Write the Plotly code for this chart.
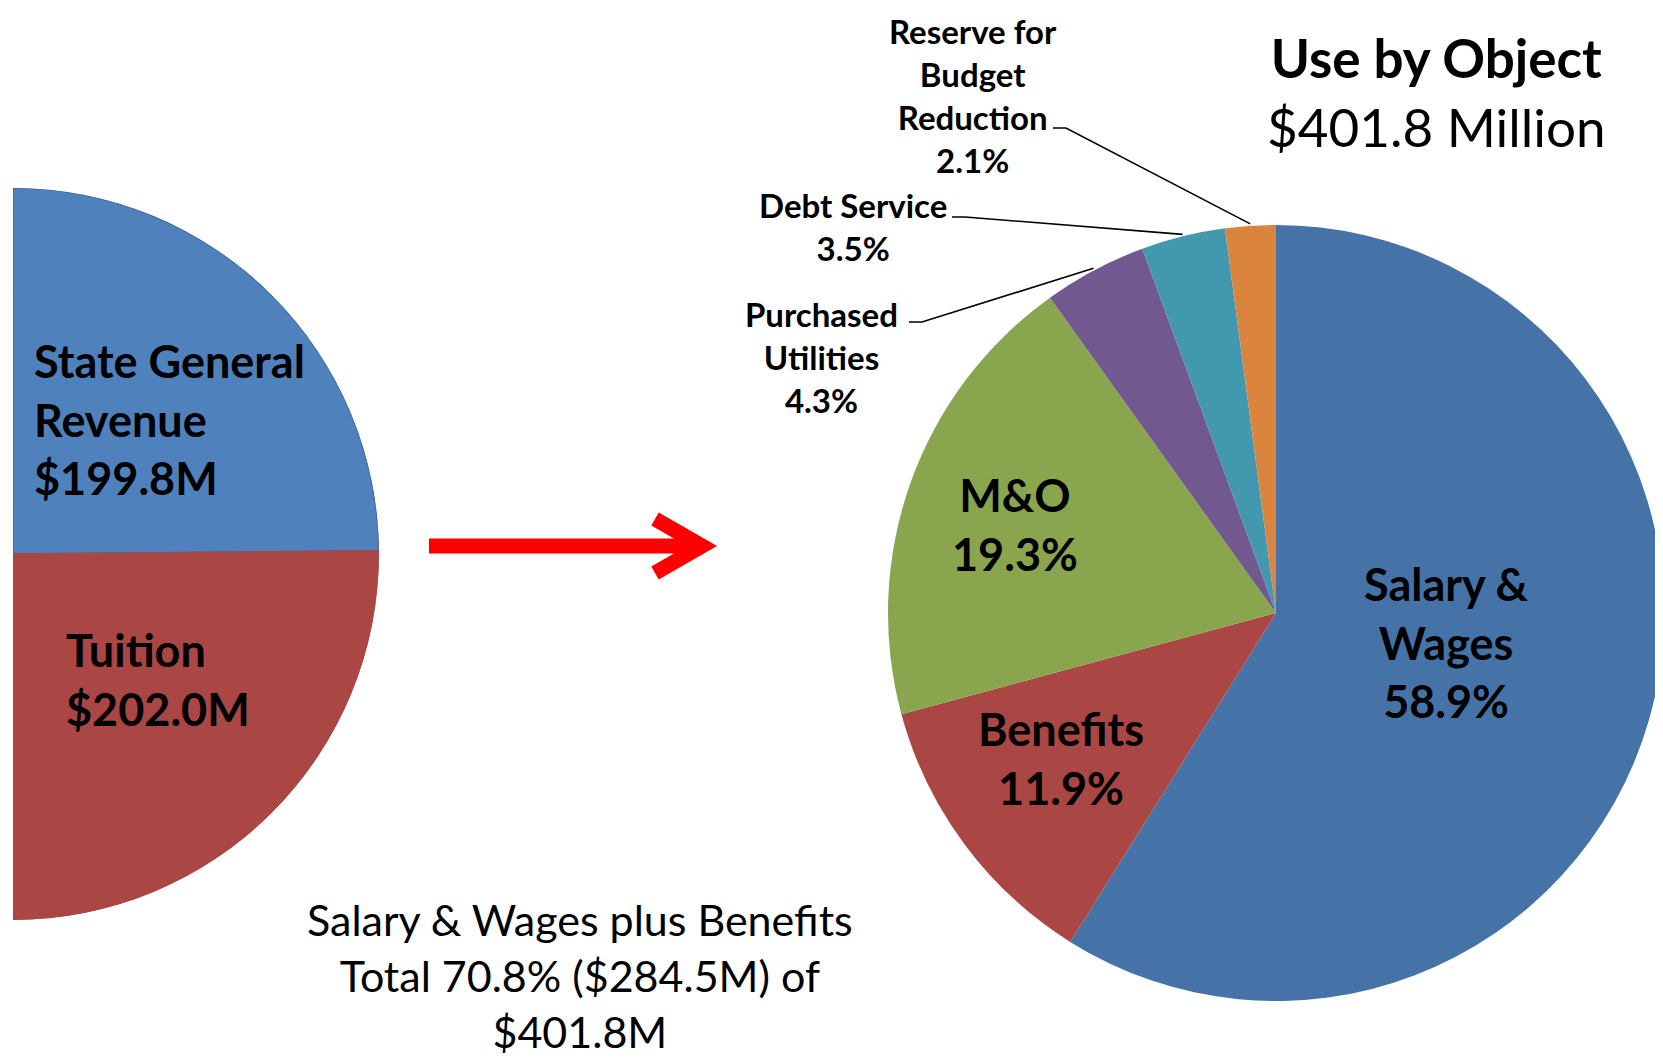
import math
import plotly.graph_objects as go

W, H = 1663, 1058
OFF = 8  # page body margin offset

# ---- data ----
rev_labels = ["State General Revenue", "Tuition"]
rev_values = [199.8, 202.0]
rev_text = ["State General<br>Revenue<br>$199.8M", "Tuition<br>$202.0M"]

use_labels = ["Salary & Wages", "Benefits", "M&O", "Purchased Utilities",
              "Debt Service", "Reserve for Budget Reduction"]
use_values = [58.9, 11.9, 19.3, 4.3, 3.5, 2.1]
use_text = ["Salary &<br>Wages<br>58.9%", "Benefits<br>11.9%", "M&O<br>19.3%",
            "Purchased<br>Utilities<br>4.3%", "Debt Service<br>3.5%",
            "Reserve for<br>Budget<br>Reduction<br>2.1%"]

title_lines = ["<b>Use by Object</b>", "$401.8 Million"]
note_text = "Salary & Wages plus Benefits<br>Total 70.8% ($284.5M) of<br>$401.8M"

# ---- styles ----
rev_colors = ["#4F81BD", "#AA4644"]
rev_line = ["#3A6494", "#AA4644"]
use_colors = ["#4572A7", "#AA4643", "#89A54E", "#71588F", "#4198AF", "#DB843D"]
FONT = "Lato, 'Open Sans', sans-serif"


def X(px):
    return (px - OFF) / W


def Y(py):
    return 1 - (py - OFF) / H


fig = go.Figure()

# ---- left half pie (polar sector) ----
tot = sum(rev_values)
widths = [180.0 * v / tot for v in rev_values]
centers = []
acc = 0.0
for w in widths:
    centers.append(acc + w / 2)
    acc += w
fig.add_trace(go.Barpolar(
    r=[1] * len(rev_values), theta=centers, width=widths,
    marker=dict(color=rev_colors, line=dict(color=rev_line, width=1.5)),
    hoverinfo="skip", showlegend=False))

lcx, lcy, lR = 13, 554, 366
fig.update_layout(polar=dict(
    domain=dict(x=[X(lcx), X(lcx + lR)], y=[Y(lcy + lR), Y(lcy - lR)]),
    sector=[-90, 90], bgcolor="rgba(0,0,0,0)", bargap=0, hole=0,
    radialaxis=dict(visible=False, range=[0, 1]),
    angularaxis=dict(visible=False, rotation=90, direction="clockwise")))

# ---- right pie ----
pcx, pcy, pR = 1276, 613, 388
fig.add_trace(go.Pie(
    labels=use_labels, values=use_values, sort=False, direction="clockwise",
    rotation=0, textinfo="none", hoverinfo="skip", showlegend=False,
    marker=dict(colors=use_colors, line=dict(width=0)),
    domain=dict(x=[X(pcx - pR), X(pcx + pR)], y=[Y(pcy + pR), Y(pcy - pR)])))

ann = []
# left labels
ann.append(dict(x=X(32), y=Y(420), text="<b>" + rev_text[0] + "</b>", xanchor="left",
                align="left", font=dict(size=45)))
ann.append(dict(x=X(64), y=Y(679), text="<b>" + rev_text[1] + "</b>", xanchor="left",
                align="left", font=dict(size=45)))
# inside labels
inside_pos = {0: (1446, 642), 1: (1061, 758), 2: (1015, 524)}
for i, (px, py) in inside_pos.items():
    ann.append(dict(x=X(px), y=Y(py), text="<b>" + use_text[i] + "</b>",
                    xanchor="center", align="center", font=dict(size=45)))
# outside labels with leader lines (label centre, start of leader line)
outside = {3: ((821, 357), (909, 322)), 4: ((853, 227), (952, 217)),
           5: ((973, 95), (1053, 128))}
shapes = []
cum = [0.0]
for v in use_values:
    cum.append(cum[-1] + v)
tv = sum(use_values)
for i, ((px, py), (lx, ly)) in outside.items():
    ann.append(dict(x=X(px), y=Y(py), text="<b>" + use_text[i] + "</b>",
                    xanchor="center", align="center", font=dict(size=33)))
    th = math.radians(360.0 * (cum[i] + cum[i + 1]) / 2 / tv)
    tx = pcx + (pR + 2) * math.sin(th)
    ty = pcy - (pR + 2) * math.cos(th)
    shapes.append(dict(type="path", xref="paper", yref="paper",
                       path=f"M {X(lx)} {Y(ly)} L {X(lx + 13)} {Y(ly)} L {X(tx)} {Y(ty)}",
                       line=dict(color="black", width=1.6)))
# title
ann.append(dict(x=X(1436), y=Y(92), text=title_lines[0] + "<br>" + title_lines[1],
                xanchor="center", align="center", font=dict(size=53)))
# bottom note
ann.append(dict(x=X(580), y=Y(975), text=note_text, xanchor="center", align="center",
                font=dict(size=43)))

for a in ann:
    a.update(xref="paper", yref="paper", showarrow=False, yanchor="middle")
    a["font"].update(family=FONT, color="black")

# red arrow
shapes.append(dict(type="line", xref="paper", yref="paper", x0=X(429), y0=Y(546),
                   x1=X(700), y1=Y(546), line=dict(color="#FF0000", width=15)))
shapes.append(dict(type="path", xref="paper", yref="paper",
                   path=f"M {X(655)} {Y(519)} L {X(702)} {Y(546)} L {X(655)} {Y(573)}",
                   line=dict(color="#FF0000", width=15)))

fig.update_layout(width=W, height=H, margin=dict(l=0, r=0, t=0, b=0),
                  paper_bgcolor="white", plot_bgcolor="white",
                  annotations=ann, shapes=shapes)

fig.write_html("out.html")
